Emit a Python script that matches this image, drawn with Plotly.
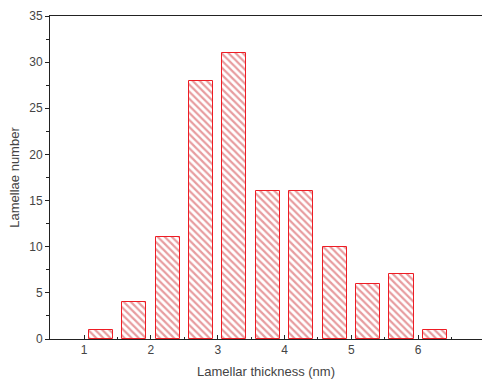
import plotly.graph_objects as go

# Histogram of lamellar thickness
bin_centers = [1.25, 1.75, 2.25, 2.75, 3.25, 3.75, 4.25, 4.75, 5.25, 5.75, 6.25]
counts = [1, 4, 11, 28, 31, 16, 16, 10, 6, 7, 1]
x_ticks = [1, 2, 3, 4, 5, 6]
y_ticks = [0, 5, 10, 15, 20, 25, 30, 35]

text_color = "#444444"
font = dict(family="Liberation Sans, Arial, sans-serif", size=12, color=text_color)

fig = go.Figure(
    go.Bar(
        x=bin_centers,
        y=counts,
        width=0.36,
        marker=dict(
            color="white",
            line=dict(color="#ee1c24", width=1),
            pattern=dict(shape="\\", fgcolor="#d03a40", bgcolor="white",
                         size=5, solidity=0.45, fillmode="overlay"),
        ),
    )
)

fig.update_layout(
    width=482,
    height=380,
    margin=dict(l=50, r=0, t=16, b=41),
    paper_bgcolor="white",
    plot_bgcolor="white",
    font=font,
    showlegend=False,
    bargap=0,
)

fig.update_xaxes(
    range=[0.49, 6.955],
    tickvals=x_ticks,
    ticks="inside",
    ticklen=4,
    tickcolor="#222222",
    showline=True,
    linecolor="#222222",
    linewidth=1,
    mirror=True,
    showgrid=False,
    zeroline=False,
    minor=dict(dtick=0.5, tick0=0.5, ticks="inside", ticklen=2, tickcolor="#222222"),
    title=dict(text="Lamellar thickness (nm)", font=dict(size=13, color=text_color), standoff=10),
    tickfont=font,
)

fig.update_yaxes(
    range=[0, 35],
    tickvals=y_ticks,
    ticks="outside",
    ticklen=4,
    tickcolor="#222222",
    showline=True,
    linecolor="#222222",
    linewidth=1,
    mirror=False,
    showgrid=False,
    zeroline=False,
    minor=dict(dtick=2.5, tick0=0, ticks="outside", ticklen=3, tickcolor="#222222"),
    title=dict(text="Lamellae number", font=dict(size=13, color=text_color), standoff=6),
    tickfont=font,
)

fig.write_html("out.html")
